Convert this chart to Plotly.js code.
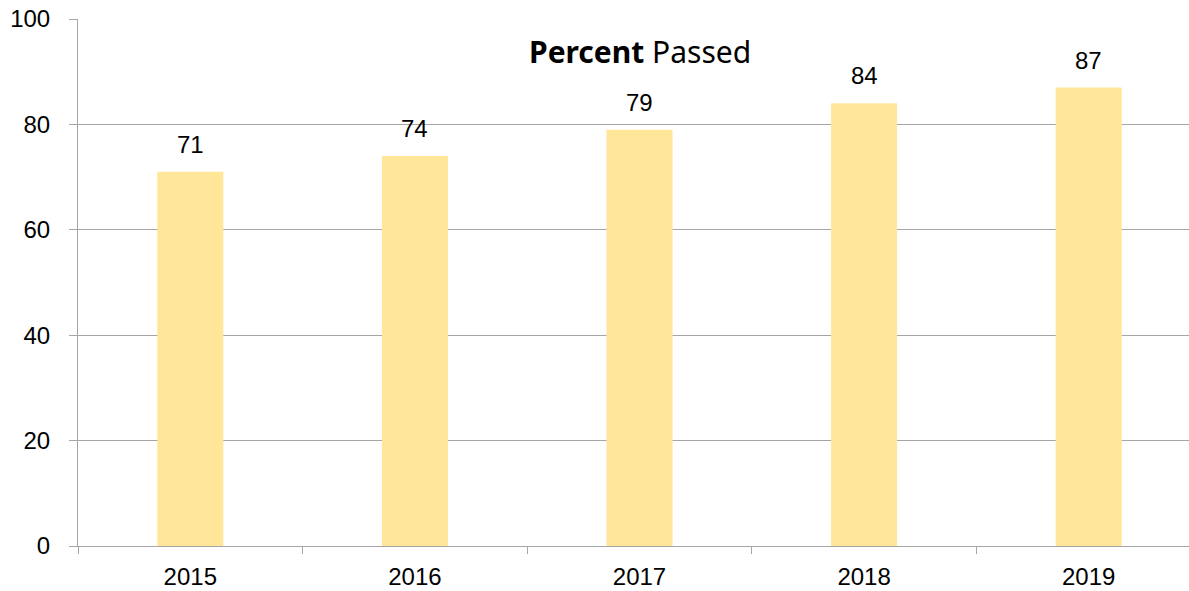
<!DOCTYPE html>
<html>
<head>
<meta charset="utf-8">
<script src="https://cdn.plot.ly/plotly-3.0.1.min.js"></script>
<style>
html,body{margin:0;padding:0;overflow:hidden;background:#fff;}
#chart{width:1201px;height:591px;}
</style>
</head>
<body>
<div id="chart"></div>
<script>
const years = ["2015", "2016", "2017", "2018", "2019"];
const percentPassed = [71, 74, 79, 84, 87];
const yTicks = [0, 20, 40, 60, 80, 100];

const trace = {
  type: "bar",
  x: years,
  y: percentPassed,
  marker: {color: "#FFE699"},
  hoverinfo: "x+y"
};

const labelAnnotations = years.map((yr, i) => ({
  x: i, y: percentPassed[i], xref: "x", yref: "y",
  text: String(percentPassed[i]), showarrow: false,
  yanchor: "bottom", yshift: 12,
  font: {family: "Liberation Sans, Arial, sans-serif", size: 24, color: "#000"}
}));

const layout = {
  width: 1201, height: 591,
  margin: {l: 78, r: 0, t: 19, b: 45},
  paper_bgcolor: "#fff", plot_bgcolor: "#fff",
  showlegend: false,
  bargap: 0.706,
  font: {family: "Liberation Sans, Arial, sans-serif", size: 24, color: "#000"},
  xaxis: {
    type: "category",
    categoryorder: "array", categoryarray: years,
    range: [-0.5, years.length - 0.5],
    showline: true, linecolor: "#a6a6a6", linewidth: 1,
    ticks: "outside", tickson: "boundaries", ticklen: 7, tickcolor: "#a6a6a6",
    showgrid: false,
    ticklabelstandoff: 9,
    tickangle: 0,
    tickfont: {size: 24, color: "#000"}
  },
  yaxis: {
    range: [0, 100],
    tickvals: yTicks,
    showline: true, linecolor: "#a6a6a6", linewidth: 1,
    ticks: "outside", ticklen: 8, tickcolor: "#a6a6a6",
    showgrid: true, gridcolor: "#a6a6a6", gridwidth: 1,
    zeroline: false,
    ticklabelstandoff: 14,
    tickfont: {size: 24, color: "#000"}
  },
  annotations: [
    {
      xref: "paper", yref: "paper", x: 0.5, y: 0.939,
      xanchor: "center", yanchor: "middle", showarrow: false,
      text: "<b>Percent</b> Passed",
      font: {family: "Noto Sans, Open Sans, sans-serif", size: 30, color: "#000"}
    }
  ].concat(labelAnnotations)
};

Plotly.newPlot("chart", [trace], layout, {displayModeBar: false, staticPlot: true});
</script>
</body>
</html>
